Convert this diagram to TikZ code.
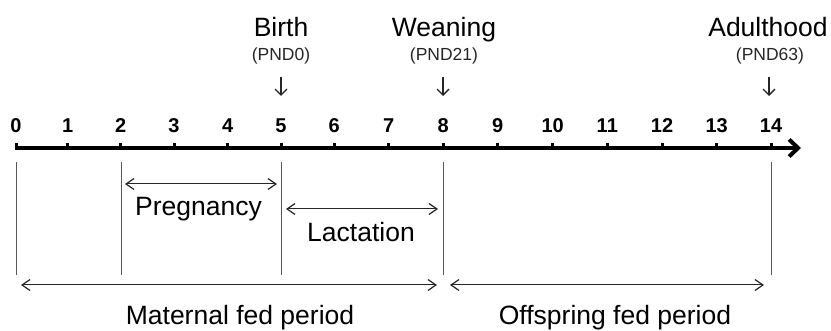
\documentclass[tikz,border=0pt]{standalone}
\usepackage{fontspec}
\setmainfont{Liberation Sans}
\usetikzlibrary{arrows.meta}
\begin{document}
\begin{tikzpicture}[x=1pt,y=-1pt,
  bigtext/.style={font=\fontsize{26.5}{30}\selectfont, inner sep=0pt, anchor=base},
  pndtext/.style={font=\fontsize{17.5}{20}\selectfont, inner sep=0pt, anchor=base, text=black!85},
  numtext/.style={font=\fontsize{20}{22}\selectfont\bfseries, inner sep=0pt, anchor=base},
  axisline/.style={line width=4pt, -{Straight Barb[length=9pt,width=17pt,line width=4pt]}},
  tickmark/.style={line width=3pt},
  vline/.style={line width=1pt, draw=black!65},
  dimarrow/.style={line width=1pt, draw=black!85, {Straight Barb[length=8pt,width=11pt,line width=1.2pt]}-{Straight Barb[length=8pt,width=11pt,line width=1.2pt]}},
  downarrow/.style={line width=1.2pt, draw=black!85, -{Straight Barb[length=6pt,width=12pt,line width=1.3pt]}}
]
\useasboundingbox (0,0) rectangle (831,331);
% tick positions
\foreach \n/\xx in {0/16,1/67.7,2/120.7,3/174,4/227.7,5/281,6/334.3,7/388.7,8/443.3,9/497.7,10/552.7,11/607.3,12/662,13/716.7,14/771}{
  \coordinate (t\n) at (\xx,148);
  \coordinate (u\n) at (\xx,143);
  \node[numtext] (n\n) at (\xx,133) {\n};
}
\coordinate (axend) at (801,148);
\draw[axisline] (14.5,148) -- (axend);
\foreach \n in {0,...,14}{ \draw[tickmark] (t\n) -- (u\n); }

% event labels
\node[bigtext] (birth) at (281,37) {Birth};
\node[pndtext] (pnd0) at (281,61) {(PND0)};
\coordinate (ba1) at (281,77); \coordinate (ba2) at (281,96);
\draw[downarrow] (ba1) -- (ba2);

\node[bigtext] (wean) at (444,37) {Weaning};
\node[pndtext] (pnd21) at (444,61) {(PND21)};
\coordinate (wa1) at (443,77); \coordinate (wa2) at (443,96);
\draw[downarrow] (wa1) -- (wa2);

\node[bigtext] (adult) at (768,37) {Adulthood};
\node[pndtext] (pnd63) at (770,61) {(PND63)};
\coordinate (aa1) at (769,77); \coordinate (aa2) at (769,96);
\draw[downarrow] (aa1) -- (aa2);

% vertical guide lines
\foreach \n/\xx in {0/16,2/121,5/281,8/443,14/771}{
  \coordinate (vt\n) at (\xx,162);
  \coordinate (vb\n) at (\xx,275);
  \draw[vline] (vt\n) -- (vb\n);
}

% periods
\coordinate (pa) at (125,184); \coordinate (pb) at (277,184);
\draw[dimarrow] (pa) -- (pb);
\node[bigtext] (preg) at (198.5,216) {Pregnancy};

\coordinate (la) at (286,209); \coordinate (lb) at (438,209);
\draw[dimarrow] (la) -- (lb);
\node[bigtext] (lact) at (361,242) {Lactation};

\coordinate (ma) at (21,285); \coordinate (mb) at (437,285);
\draw[dimarrow] (ma) -- (mb);
\node[bigtext] (mat) at (240,325) {Maternal fed period};

\coordinate (oa) at (450,285); \coordinate (ob) at (764,285);
\draw[dimarrow] (oa) -- (ob);
\node[bigtext] (off) at (615,325) {Offspring fed period};
\end{tikzpicture}
\end{document}
